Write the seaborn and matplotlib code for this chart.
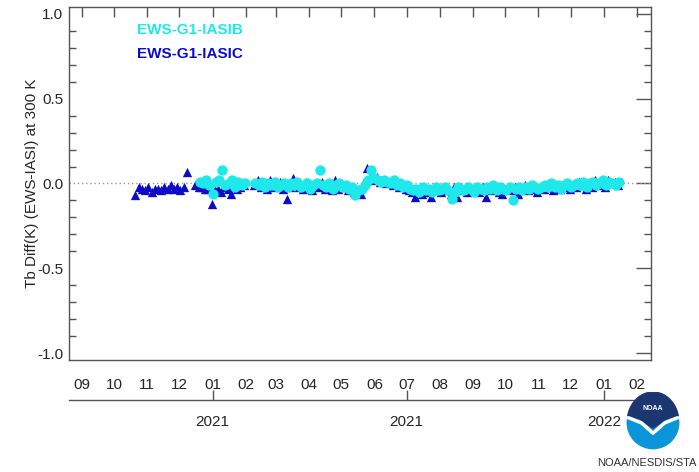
import numpy as np
import pandas as pd
import seaborn as sns
import matplotlib.pyplot as plt
import matplotlib.dates as mdates
from matplotlib.patches import Circle, Polygon

# EWS-G1 minus IASI-C (blue triangles), one value every 3 days per segment
ic_a_start = '2020-10-21'
ic_a = [-0.07, -0.02, -0.03, -0.04, -0.02, -0.05, -0.03, -0.03, -0.04, -0.02,
        -0.03, -0.01, -0.03, -0.02, -0.04, -0.02, 0.07]
ic_b_start = '2020-12-16'
ic_b = [-0.01, -0.02, -0.02, -0.03, -0.03, -0.12, -0.04, -0.03, -0.05, -0.02,
        -0.03, -0.06, -0.02, -0.03, -0.02, -0.01]
ic_c_start = '2021-02-09'
ic_c = [-0.01, 0.02, -0.02, -0.01, -0.03, 0.02, -0.02, -0.01, 0.01, -0.03,
        -0.09, -0.02, 0.03, -0.01, -0.02, -0.03, 0.01, -0.02, -0.04, -0.01,
        -0.02, 0.01, -0.03, -0.02, -0.04, 0.02, -0.03, -0.02, -0.01, -0.04,
        -0.03, -0.05, -0.04, -0.06, 0.01, 0.09, 0.03, 0.02, 0.04, 0.01,
        0.02, 0.00, 0.01, -0.01, 0.02, -0.02, -0.01, -0.03, -0.04, -0.05,
        -0.08, -0.04, -0.06, -0.03, -0.05, -0.08, -0.04, -0.02, -0.05, -0.03,
        -0.04, -0.06, -0.02, -0.08, -0.04, -0.03, -0.05, -0.02, -0.04, -0.03,
        -0.05, -0.02, -0.08, -0.03, -0.04, -0.02, -0.05, -0.06, -0.03, -0.02,
        -0.04, -0.02, -0.06, -0.03, -0.01, -0.04, -0.02, -0.03, -0.05, -0.02,
        -0.03, -0.01, -0.02, -0.04, -0.02, -0.03, -0.01, -0.02, -0.03, -0.01,
        -0.02, 0.01, -0.01, -0.03, 0.00, -0.02, 0.02, -0.01, 0.01, -0.02,
        0.02, 0.00, 0.01, -0.01]

# EWS-G1 minus IASI-B (cyan circles)
ib_a_start = '2020-12-20'
ib_a = [0.01, 0.00, 0.02, -0.01, -0.06, 0.01, 0.02, 0.08, -0.01, 0.00,
        0.02, -0.02, 0.01, -0.01, 0.00]
ib_b_start = '2021-02-10'
ib_b = [0.00, -0.01, 0.01, -0.02, 0.00, -0.01, 0.01, -0.02, -0.01, 0.00,
        -0.02, 0.00, -0.01, 0.01, -0.02, -0.01, 0.00, -0.03, -0.01, 0.00,
        0.08, -0.01, -0.02, 0.00, -0.03, -0.01, 0.00, -0.02, -0.01, -0.03,
        -0.02, -0.07, -0.04, -0.03, -0.01, 0.02, 0.08, 0.03, 0.02, 0.01,
        0.02, 0.01, 0.00, 0.02, -0.01, 0.00, -0.02, -0.01, -0.03, -0.04,
        -0.03, -0.05, -0.02, -0.04, -0.03, -0.05, -0.02, -0.04, -0.03, -0.02,
        -0.04, -0.09, -0.05, -0.02, -0.03, -0.04, -0.02, -0.03, -0.05, -0.02,
        -0.03, -0.04, -0.02, -0.03, -0.01, -0.04, -0.02, -0.03, -0.04, -0.02,
        -0.10, -0.03, -0.02, -0.04, -0.02, -0.03, -0.01, -0.02, -0.03, -0.02,
        -0.01, -0.02, 0.00, -0.02, -0.01, -0.03, -0.01, 0.00, -0.02, -0.01,
        0.00, -0.01, 0.01, -0.02, 0.00, 0.01, -0.01, 0.00, 0.02, -0.01,
        0.01, 0.00, -0.01, 0.01]

year_ticks = ['2021-01-01', '2021-07-01', '2022-01-01']


def segment(start, vals, name):
    d = pd.date_range(start, periods=len(vals), freq='3D')
    return pd.DataFrame({'date': d, 'diff': vals, 'pair': name})


ic = pd.concat([segment(ic_a_start, ic_a, 'IASIC'), segment(ic_b_start, ic_b, 'IASIC'),
                segment(ic_c_start, ic_c, 'IASIC')])
ib = pd.concat([segment(ib_a_start, ib_a, 'IASIB'), segment(ib_b_start, ib_b, 'IASIB')])

sns.set_style('white')
plt.rcParams['font.family'] = ['Liberation Sans', 'DejaVu Sans']

blue = '#0c0cc8'
cyan = '#1ee8ea'
edge = '#555555'

fig = plt.figure(figsize=(6.99, 4.72), dpi=100)
ax = fig.add_axes([0.0987, 0.2373, 0.8326, 0.7479])

ax.axhline(0, color='#999999', lw=1, ls=(0, (1, 2)), zorder=1)
sns.scatterplot(data=ic, x='date', y='diff', marker='^', s=45, color=blue,
                edgecolor=blue, linewidth=0, ax=ax, zorder=2)
sns.scatterplot(data=ib, x='date', y='diff', marker='o', s=55, color=cyan,
                edgecolor=cyan, linewidth=0, ax=ax, zorder=3)

ax.set_xlim(pd.Timestamp('2020-08-20'), pd.Timestamp('2022-02-14'))
ax.set_ylim(-1.04, 1.04)
ax.set_yticks([-1.0, -0.5, 0.0, 0.5, 1.0])
ax.set_yticklabels(['-1.0', '-0.5', '0.0', '0.5', '1.0'])
ax.yaxis.set_minor_locator(plt.MultipleLocator(0.1))
ax.xaxis.set_major_locator(mdates.MonthLocator())
ax.xaxis.set_major_formatter(mdates.DateFormatter('%m'))
ax.tick_params(axis='x', which='major', direction='in', length=7, width=1,
               color=edge, top=True, labelsize=11, pad=13)
ax.tick_params(axis='y', which='major', direction='in', length=11, width=1,
               color=edge, right=True, labelsize=11, pad=4)
ax.tick_params(axis='y', which='minor', direction='in', length=5, width=1,
               color=edge, right=True, left=True)
for s in ax.spines.values():
    s.set_color(edge)
    s.set_linewidth(1)
ax.set_xlabel('')
ax.set_ylabel('Tb Diff(K) (EWS-IASI) at 300 K', fontsize=11, labelpad=8)
ax.yaxis.set_label_coords(-0.052, 0.5)

# year axis below the month axis
sec = ax.secondary_xaxis(-0.113)
sec.set_xticks([pd.Timestamp(t) for t in year_ticks])
sec.xaxis.set_major_formatter(mdates.DateFormatter('%Y'))
sec.tick_params(direction='in', length=7, width=1, color=edge, labelsize=11, pad=11)
sec.spines['bottom'].set_color(edge)
sec.spines['bottom'].set_linewidth(1)

ax.text(0.117, 0.936, 'EWS-G1-IASIB', transform=ax.transAxes, color=cyan,
        fontsize=11, fontweight='bold', va='center')
ax.text(0.117, 0.868, 'EWS-G1-IASIC', transform=ax.transAxes, color=blue,
        fontsize=11, fontweight='bold', va='center')

# NOAA logo
lax = fig.add_axes([626 / 699, 1 - 452 / 472, 54 / 699, 62 / 472])
lax.set_xlim(-1.05, 1.05)
lax.set_ylim(-1.05, 1.2)
lax.set_aspect('equal')
lax.axis('off')
lax.add_patch(Circle((0, 0), 1, color='#0a95d8'))
ang = np.linspace(np.radians(12), np.radians(168), 40)
top = list(zip(np.cos(ang), np.sin(ang) * 1.15 + 0.05))
navy = Polygon(top + [(-0.5, 0.15), (0, -0.2), (0.5, 0.15)], closed=True, color='#1c3672')
lax.add_patch(navy)
lax.plot([-0.95, -0.45, 0.0, 0.45, 0.95], [0.2, 0.0, -0.4, 0.0, 0.2], color='white', lw=2.5)
lax.text(0, 0.55, 'NOAA', color='white', fontsize=5, fontweight='bold', ha='center', va='center')
fig.text(697 / 699, 1 - 463 / 472, 'NOAA/NESDIS/STA', fontsize=8, color='#333333',
         ha='right', va='center')

fig.savefig('out.png', dpi=100)
